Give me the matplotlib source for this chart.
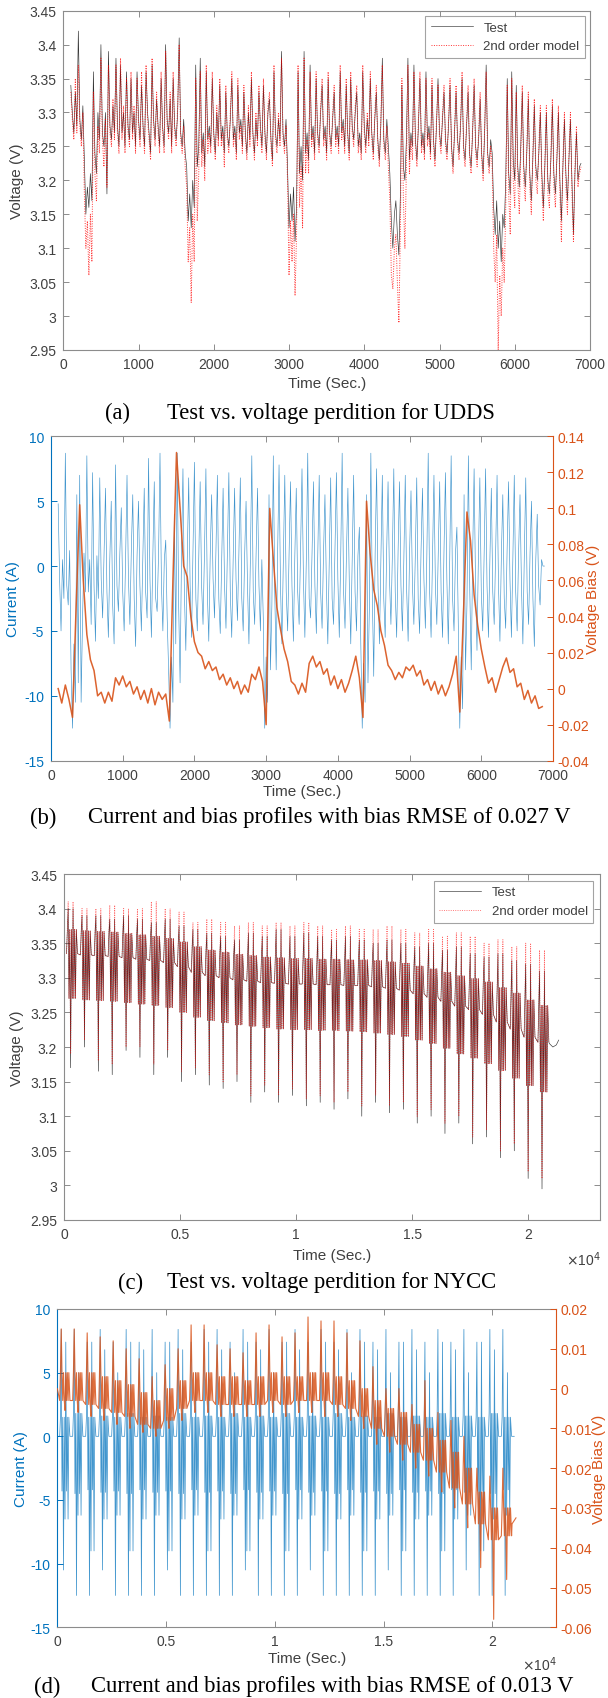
import numpy as np
import matplotlib
matplotlib.use('Agg')
import matplotlib.pyplot as plt
from matplotlib.ticker import FuncFormatter, MultipleLocator

plt.rcParams['font.family'] = ['Liberation Sans', 'DejaVu Sans']
plt.rcParams['axes.unicode_minus'] = False

W, H = 608, 1699
BLUE, ORANGE, RED = '#0072BD', '#D95319', '#FF0000'
SPINE, TXT = '#8c8c8c', '#404040'

# ---------------- (a)/(b) UDDS, voltage and current read every 20 s, bias every 50 s
udds_t = np.arange(100, 6881, 20)
a_test = [3.34, 3.30, 3.27, 3.33, 3.28, 3.42, 3.29, 3.26, 3.31, 3.23, 3.15, 3.19, 3.16, 3.21, 3.17, 3.36, 3.24, 3.21, 3.30, 3.26,
          3.40, 3.27, 3.25, 3.30, 3.18, 3.39, 3.28, 3.26, 3.31, 3.27, 3.38, 3.28, 3.25, 3.37, 3.27, 3.30, 3.25, 3.36, 3.28, 3.26,
          3.35, 3.27, 3.30, 3.25, 3.36, 3.29, 3.26, 3.34, 3.28, 3.25, 3.36, 3.30, 3.27, 3.24, 3.37, 3.29, 3.26, 3.32, 3.28, 3.25,
          3.35, 3.28, 3.25, 3.40, 3.29, 3.27, 3.32, 3.25, 3.35, 3.28, 3.26, 3.30, 3.41, 3.27, 3.25, 3.29, 3.24, 3.22, 3.14, 3.18,
          3.13, 3.20, 3.16, 3.37, 3.22, 3.25, 3.38, 3.24, 3.27, 3.22, 3.36, 3.26, 3.28, 3.25, 3.35, 3.27, 3.24, 3.30, 3.26, 3.34,
          3.26, 3.28, 3.24, 3.33, 3.27, 3.25, 3.29, 3.35, 3.26, 3.28, 3.24, 3.34, 3.27, 3.29, 3.25, 3.33, 3.27, 3.24, 3.30, 3.26,
          3.35, 3.27, 3.24, 3.29, 3.26, 3.33, 3.28, 3.25, 3.34, 3.27, 3.24, 3.30, 3.32, 3.26, 3.23, 3.36, 3.27, 3.25, 3.29, 3.26,
          3.39, 3.27, 3.25, 3.29, 3.22, 3.13, 3.18, 3.14, 3.19, 3.11, 3.16, 3.36, 3.21, 3.25, 3.20, 3.39, 3.24, 3.27, 3.23, 3.37,
          3.26, 3.28, 3.24, 3.35, 3.27, 3.25, 3.30, 3.34, 3.26, 3.28, 3.24, 3.35, 3.27, 3.25, 3.29, 3.33, 3.26, 3.28, 3.25, 3.36,
          3.27, 3.29, 3.25, 3.34, 3.27, 3.24, 3.35, 3.28, 3.26, 3.30, 3.33, 3.25, 3.27, 3.24, 3.36, 3.28, 3.25, 3.29, 3.26, 3.35,
          3.27, 3.24, 3.29, 3.33, 3.26, 3.23, 3.28, 3.38, 3.26, 3.24, 3.29, 3.25, 3.21, 3.14, 3.10, 3.15, 3.17, 3.12, 3.09, 3.18,
          3.34, 3.22, 3.20, 3.26, 3.38, 3.23, 3.27, 3.25, 3.37, 3.26, 3.23, 3.28, 3.35, 3.25, 3.27, 3.24, 3.36, 3.26, 3.28, 3.24,
          3.34, 3.26, 3.23, 3.28, 3.35, 3.27, 3.25, 3.29, 3.33, 3.26, 3.24, 3.28, 3.34, 3.25, 3.22, 3.27, 3.33, 3.26, 3.24, 3.28,
          3.35, 3.25, 3.23, 3.28, 3.33, 3.24, 3.22, 3.27, 3.34, 3.25, 3.23, 3.26, 3.32, 3.24, 3.21, 3.27, 3.37, 3.24, 3.22, 3.26,
          3.24, 3.16, 3.12, 3.17, 3.10, 3.14, 3.08, 3.15, 3.13, 3.20, 3.35, 3.21, 3.18, 3.36, 3.23, 3.20, 3.34, 3.22, 3.19, 3.25,
          3.33, 3.22, 3.19, 3.24, 3.32, 3.21, 3.17, 3.23, 3.31, 3.22, 3.20, 3.24, 3.30, 3.21, 3.16, 3.22, 3.30, 3.20, 3.18, 3.23,
          3.31, 3.21, 3.18, 3.23, 3.30, 3.20, 3.14, 3.22, 3.29, 3.21, 3.17, 3.23, 3.29, 3.20, 3.12, 3.21, 3.27, 3.20, 3.22, 3.225]
a_model = [3.33, 3.29, 3.26, 3.35, 3.27, 3.37, 3.28, 3.25, 3.30, 3.18, 3.10, 3.14, 3.06, 3.15, 3.08, 3.33, 3.21, 3.17, 3.28, 3.24,
           3.38, 3.26, 3.22, 3.29, 3.19, 3.37, 3.27, 3.25, 3.32, 3.26, 3.37, 3.27, 3.24, 3.38, 3.26, 3.31, 3.24, 3.35, 3.27, 3.25,
           3.36, 3.26, 3.31, 3.24, 3.35, 3.28, 3.25, 3.36, 3.27, 3.24, 3.37, 3.29, 3.26, 3.23, 3.38, 3.28, 3.25, 3.33, 3.27, 3.24,
           3.36, 3.27, 3.24, 3.39, 3.28, 3.26, 3.33, 3.24, 3.36, 3.27, 3.25, 3.31, 3.40, 3.26, 3.24, 3.28, 3.22, 3.19, 3.08, 3.13,
           3.02, 3.15, 3.08, 3.35, 3.14, 3.21, 3.36, 3.22, 3.26, 3.20, 3.37, 3.24, 3.27, 3.24, 3.36, 3.26, 3.23, 3.31, 3.25, 3.35,
           3.25, 3.27, 3.22, 3.34, 3.26, 3.24, 3.30, 3.36, 3.25, 3.27, 3.23, 3.35, 3.26, 3.28, 3.24, 3.34, 3.26, 3.23, 3.31, 3.25,
           3.36, 3.26, 3.23, 3.30, 3.25, 3.34, 3.27, 3.24, 3.35, 3.26, 3.23, 3.31, 3.33, 3.25, 3.22, 3.37, 3.26, 3.24, 3.30, 3.25,
           3.38, 3.26, 3.24, 3.28, 3.20, 3.06, 3.14, 3.08, 3.15, 3.03, 3.12, 3.37, 3.16, 3.22, 3.13, 3.38, 3.21, 3.26, 3.21, 3.36,
           3.25, 3.27, 3.23, 3.36, 3.26, 3.24, 3.31, 3.35, 3.25, 3.27, 3.23, 3.36, 3.26, 3.24, 3.30, 3.34, 3.25, 3.27, 3.24, 3.37,
           3.26, 3.28, 3.24, 3.35, 3.26, 3.23, 3.36, 3.27, 3.25, 3.31, 3.34, 3.24, 3.26, 3.23, 3.37, 3.27, 3.24, 3.30, 3.25, 3.36,
           3.26, 3.23, 3.30, 3.34, 3.25, 3.22, 3.29, 3.37, 3.25, 3.23, 3.28, 3.22, 3.17, 3.06, 3.04, 3.10, 3.12, 3.05, 2.99, 3.13,
           3.35, 3.17, 3.10, 3.22, 3.37, 3.21, 3.26, 3.23, 3.36, 3.25, 3.22, 3.29, 3.36, 3.24, 3.26, 3.23, 3.35, 3.25, 3.27, 3.23,
           3.35, 3.25, 3.22, 3.29, 3.34, 3.26, 3.24, 3.30, 3.34, 3.25, 3.23, 3.29, 3.35, 3.24, 3.21, 3.28, 3.34, 3.25, 3.23, 3.29,
           3.36, 3.24, 3.22, 3.29, 3.34, 3.23, 3.21, 3.28, 3.35, 3.24, 3.22, 3.27, 3.33, 3.23, 3.20, 3.28, 3.36, 3.23, 3.21, 3.25,
           3.22, 3.10, 3.05, 3.12, 2.95, 3.06, 3.00, 3.10, 3.05, 3.16, 3.34, 3.18, 3.12, 3.35, 3.20, 3.16, 3.33, 3.20, 3.15, 3.24,
           3.34, 3.20, 3.17, 3.25, 3.33, 3.19, 3.15, 3.24, 3.32, 3.20, 3.18, 3.25, 3.31, 3.19, 3.14, 3.23, 3.31, 3.18, 3.16, 3.24,
           3.32, 3.19, 3.16, 3.24, 3.31, 3.18, 3.11, 3.23, 3.30, 3.19, 3.15, 3.24, 3.30, 3.18, 3.11, 3.22, 3.28, 3.19, 3.21, 3.22]
b_current = [4.8, -1.0, -5.0, 0.5, -2.5, 8.7, -1.5, -3.0, 1.2, -8.0, -12.5, -6.0, -10.5, 5.5, -9.0, 7.0, -10.5, -4.0, 1.0, -2.0,
             8.5, -2.0, 0.5, -4.5, 7.2, -1.5, -5.8, 0.8, -2.5, 6.8, -1.0, -4.0, 1.0, 6.0, -2.0, -5.5, 0.5, 5.0, -3.0, -6.0,
             7.8, -1.5, -3.5, 1.0, 4.5, -2.0, -5.0, 0.5, 7.0, -1.0, -4.5, 1.2, 5.5, -2.5, -6.2, 0.8, 5.0, -1.5, -5.0, 0.5,
             6.0, -2.0, -4.0, 8.3, -1.0, -5.5, 0.8, 6.5, -2.5, -3.5, 1.0, 8.7, -1.5, -5.0, 0.5, 2.0, -4.0, -8.0, -12.5, -7.0,
             -10.5, 4.0, -6.0, 8.7, -3.0, -9.0, 1.0, 7.5, -2.0, -6.5, 0.5, 6.8, -1.5, -5.5, 1.2, 8.0, -2.5, -5.0, 0.5, 6.5,
             -1.5, -4.5, 1.0, 7.5, -2.0, -5.8, 0.8, 5.5, -1.0, -4.0, 1.2, 7.0, -2.5, -5.2, 0.5, 6.0, -1.5, -4.8, 1.0, 7.2,
             -2.0, -5.5, 0.5, 6.0, -1.0, -4.2, 1.0, 6.8, -2.5, -5.0, 0.8, 5.0, -1.5, -6.0, 0.5, 8.5, -2.0, -4.5, 1.0, 6.0,
             -1.5, -5.0, 0.5, -4.0, -12.5, -7.0, -10.5, 5.5, -8.0, -3.0, 8.5, -2.0, -8.0, 1.0, 7.8, -1.5, -6.0, 0.5, 7.0, -2.0,
             -5.0, 1.0, 6.5, -1.5, -5.8, 0.8, 6.0, -2.0, -4.5, 1.2, 7.5, -1.0, -5.5, 0.5, 8.7, -2.5, -4.0, 1.0, 6.5, -1.5,
             -5.2, 0.8, 7.0, -2.0, -4.8, 1.0, 5.5, -1.5, -6.0, 0.5, 6.8, -2.5, -4.5, 1.2, 7.2, -1.0, -5.5, 0.8, 8.7, -2.0,
             -4.8, 1.0, 6.0, -1.5, -6.0, 0.5, 7.0, -2.0, -5.0, 0.8, 3.0, -6.0, -12.5, -7.5, -10.5, 5.5, -9.0, -3.0, 8.7, -2.0,
             -8.5, 1.0, 7.5, -1.5, -6.0, 0.5, 7.0, -2.5, -5.5, 1.0, 6.5, -1.0, -4.5, 0.8, 7.5, -2.0, -5.5, 1.2, 6.5, -1.5,
             -5.0, 0.5, 7.0, -2.0, -5.8, 1.0, 5.8, -1.5, -4.5, 0.8, 6.8, -2.5, -5.2, 1.2, 6.0, -1.0, -4.8, 0.5, 8.7, -2.0,
             -5.5, 1.0, 7.0, -1.5, -4.5, 0.8, 6.5, -2.0, -5.5, 1.2, 7.2, -1.0, -6.0, 0.5, 8.5, -2.5, -5.0, 1.0, 3.0, -5.0,
             -12.5, -7.0, -11.0, 5.5, -8.0, -3.0, 8.5, -2.0, -8.0, 1.0, 7.5, -1.5, -6.5, 0.8, 6.8, -2.0, -5.0, 1.0, 7.5, -1.5,
             -5.5, 0.5, 6.0, -2.0, -4.5, 1.0, 7.0, -1.5, -5.8, 0.8, 5.5, -2.5, -4.8, 1.2, 6.5, -1.0, -5.5, 0.5, 7.0, -2.0,
             -5.0, 1.0, 5.5, -1.5, -6.0, 0.8, 6.8, -2.0, -4.5, 1.0, 5.0, -2.5, -6.2, 0.5, 4.0, -1.5, -3.0, 0.5, 0.0, 0.0]
bias_t = np.arange(100, 6851, 50)
b_bias = [0.000, -0.008, 0.002, -0.006, -0.016, 0.045, 0.102, 0.060, 0.030, 0.016,
          0.010, -0.004, -0.002, -0.008, -0.002, -0.007, 0.006, 0.002, 0.007, 0.001,
          0.004, -0.003, 0.001, -0.006, -0.001, -0.008, 0.000, -0.009, -0.002, -0.006,
          -0.003, -0.018, 0.060, 0.131, 0.100, 0.068, 0.062, 0.040, 0.026, 0.020,
          0.018, 0.011, 0.015, 0.010, 0.012, 0.005, 0.008, 0.002, 0.006, 0.000,
          0.004, -0.003, 0.002, -0.002, 0.008, 0.005, 0.012, 0.004, -0.020, 0.100,
          0.072, 0.045, 0.033, 0.022, 0.015, 0.004, 0.002, -0.003, 0.003, -0.002,
          0.014, 0.018, 0.012, 0.015, 0.008, 0.011, 0.002, 0.007, 0.000, 0.005,
          -0.002, 0.003, 0.010, 0.018, 0.006, -0.016, 0.104, 0.075, 0.055, 0.046,
          0.032, 0.024, 0.013, 0.010, 0.005, 0.009, 0.006, 0.012, 0.010, 0.013,
          0.007, 0.010, 0.002, 0.005, -0.001, 0.004, -0.003, 0.002, -0.004, 0.001,
          0.008, 0.018, -0.013, 0.040, 0.098, 0.082, 0.052, 0.035, 0.022, 0.012,
          0.003, 0.006, -0.002, 0.005, 0.012, 0.017, 0.009, 0.011, 0.001, 0.003,
          -0.006, -0.001, -0.008, -0.004, -0.011, -0.010]

# ---------------- (c)/(d) NYCC, one entry per drive cycle (~597 s each)
nycc_t = np.arange(340, 21000, 597)
sub_t = np.array([-230, -195, -160, -125, -90, -55, -20, 15, 50, 85, 120, 155, 190, 240])   # samples in a cycle
c_base = [3.335, 3.333, 3.332, 3.331, 3.329, 3.327, 3.325, 3.322, 3.316, 3.308,
          3.303, 3.300, 3.297, 3.295, 3.293, 3.292, 3.291, 3.291, 3.290, 3.290,
          3.289, 3.289, 3.287, 3.285, 3.282, 3.277, 3.272, 3.266, 3.259, 3.254,
          3.247, 3.236, 3.226, 3.214, 3.207]
c_cu = [3.370, 3.368, 3.367, 3.366, 3.364, 3.362, 3.360, 3.357, 3.352, 3.345,
        3.340, 3.337, 3.334, 3.332, 3.330, 3.329, 3.328, 3.328, 3.327, 3.327,
        3.326, 3.326, 3.325, 3.323, 3.321, 3.317, 3.313, 3.308, 3.303, 3.299,
        3.294, 3.286, 3.278, 3.268, 3.260]
c_cl = [3.270, 3.268, 3.267, 3.266, 3.264, 3.262, 3.260, 3.257, 3.250, 3.243,
        3.238, 3.235, 3.232, 3.230, 3.228, 3.226, 3.225, 3.225, 3.224, 3.224,
        3.223, 3.222, 3.220, 3.218, 3.215, 3.210, 3.205, 3.198, 3.190, 3.184,
        3.176, 3.166, 3.155, 3.144, 3.135]
c_hi = [3.400, 3.390, 3.390, 3.385, 3.390, 3.385, 3.380, 3.385, 3.375, 3.370,
        3.365, 3.360, 3.355, 3.365, 3.360, 3.370, 3.360, 3.365, 3.360, 3.355,
        3.360, 3.355, 3.350, 3.355, 3.350, 3.345, 3.350, 3.340, 3.345, 3.335,
        3.330, 3.335, 3.325, 3.320, 3.310]
c_lo = [3.170, 3.200, 3.165, 3.160, 3.195, 3.185, 3.160, 3.185, 3.150, 3.160,
        3.145, 3.140, 3.150, 3.120, 3.135, 3.120, 3.130, 3.115, 3.120, 3.110,
        3.125, 3.100, 3.120, 3.105, 3.110, 3.090, 3.100, 3.075, 3.090, 3.060,
        3.070, 3.040, 3.050, 3.010, 2.995]
m_hi = [3.410, 3.400, 3.400, 3.405, 3.400, 3.400, 3.410, 3.400, 3.395, 3.380,
        3.385, 3.380, 3.375, 3.380, 3.375, 3.380, 3.375, 3.380, 3.375, 3.370,
        3.375, 3.370, 3.370, 3.375, 3.370, 3.365, 3.370, 3.360, 3.365, 3.360,
        3.350, 3.355, 3.345, 3.350, 3.340]
m_lo = [3.190, 3.210, 3.180, 3.175, 3.200, 3.200, 3.175, 3.195, 3.165, 3.170,
        3.160, 3.150, 3.160, 3.130, 3.145, 3.130, 3.140, 3.125, 3.130, 3.120,
        3.135, 3.115, 3.130, 3.115, 3.120, 3.100, 3.110, 3.090, 3.100, 3.070,
        3.080, 3.050, 3.060, 3.020, 3.010]
c_tail_t = [20900, 21050, 21200, 21300]
c_tail_v = [3.205, 3.200, 3.203, 3.210]

d_hi = [8.4, 8.4, 7.4, 8.4, 7.4, 8.4, 7.4, 8.4, 7.4, 8.4, 7.4, 8.4, 8.4, 7.4, 8.4,
        7.4, 8.4, 7.4, 8.4, 7.4, 8.4, 7.4, 8.4, 8.4, 7.4, 8.4, 7.4, 8.4, 7.4, 8.4,
        7.4, 8.4, 7.4, 8.4, 8.4]
d_hi2 = [7.4, 5.0, 7.4, 6.8, 5.0, 7.4, 6.8, 5.0, 7.4, 6.8, 5.0, 7.4, 6.8, 5.0, 7.4,
         6.8, 5.0, 7.4, 6.8, 5.0, 7.4, 6.8, 5.0, 7.4, 6.8, 5.0, 7.4, 6.8, 5.0, 7.4,
         6.8, 5.0, 7.4, 6.8, 5.0]
d_lo = [-10.5, -12.5, -12.5, -10.5, -12.5, -12.5, -12.5, -12.5, -10.5, -12.5, -12.5, -12.5,
        -12.5, -12.5, -10.5, -12.5, -12.5, -12.5, -12.5, -10.5, -12.5, -12.5, -12.5, -12.5,
        -12.5, -10.5, -12.5, -12.5, -12.5, -12.5, -12.5, -10.5, -12.5, -12.5, -12.5]
d_cu = [1.5, 1.8, 1.5, 1.6, 1.5, 1.8, 1.5, 1.6, 1.5, 1.8, 1.5, 1.6, 1.5, 1.8, 1.5,
        1.6, 1.5, 1.8, 1.5, 1.6, 1.5, 1.8, 1.5, 1.6, 1.5, 1.8, 1.5, 1.6, 1.5, 1.8,
        1.5, 1.6, 1.5, 1.8, 1.5]
d_cl = [-4.3, -4.5, -4.2, -4.4, -4.3, -4.5, -4.2, -4.4, -4.3, -4.5, -4.2, -4.4, -4.3,
        -4.5, -4.2, -4.4, -4.3, -4.5, -4.2, -4.4, -4.3, -4.5, -4.2, -4.4, -4.3, -4.5,
        -4.2, -4.4, -4.3, -4.5, -4.2, -4.4, -4.3, -4.5, -4.2]
d_mid = [-6.5, -6.2, -9.0, -6.5, -6.2, -9.0, -6.5, -6.2, -9.0, -6.5, -6.2, -9.0, -6.5,
         -6.2, -9.0, -6.5, -6.2, -9.0, -6.5, -6.2, -9.0, -6.5, -6.2, -9.0, -6.5, -6.2,
         -9.0, -6.5, -6.2, -9.0, -6.5, -6.2, -9.0, -6.5, -6.2]
o_pk = [0.015, 0.015, 0.014, 0.013, 0.012, 0.010, 0.0075, 0.003, 0.006, 0.010,
        0.016, 0.016, 0.011, 0.010, 0.009, 0.014, 0.016, 0.013, 0.014, 0.018,
        0.017, 0.017, 0.014, 0.012, 0.0055, 0.000, 0.000, -0.004, 0.002, -0.006,
        -0.008, -0.012, -0.020, -0.022, -0.020]
o_cu = [0.004, 0.004, 0.004, 0.003, 0.002, 0.001, -0.001, -0.003, 0.000, 0.002,
        0.004, 0.004, 0.003, 0.003, 0.002, 0.003, 0.004, 0.003, 0.003, 0.004,
        0.004, 0.003, 0.002, 0.000, -0.003, -0.005, -0.006, -0.009, -0.010, -0.013,
        -0.016, -0.020, -0.026, -0.030, -0.030]
o_cl = [-0.003, -0.003, -0.004, -0.005, -0.006, -0.007, -0.009, -0.010, -0.008, -0.005,
        -0.003, -0.003, -0.004, -0.004, -0.004, -0.004, -0.003, -0.004, -0.003, -0.003,
        -0.003, -0.004, -0.005, -0.007, -0.010, -0.012, -0.014, -0.016, -0.018, -0.021,
        -0.025, -0.029, -0.034, -0.038, -0.037]
o_tr = [-0.0055, -0.006, -0.007, -0.008, -0.009, -0.010, -0.011, -0.012, -0.010, -0.008,
        -0.006, -0.006, -0.007, -0.007, -0.007, -0.007, -0.006, -0.007, -0.006, -0.006,
        -0.007, -0.007, -0.008, -0.010, -0.014, -0.016, -0.018, -0.020, -0.022, -0.026,
        -0.030, -0.035, -0.045, -0.058, -0.048]
d_tail_t = [20900, 21080]
d_tail_v = [-0.034, -0.0325]


def rect(l, t, r, b):
    return [l / W, 1 - b / H, (r - l) / W, (b - t) / H]


def cycles(cols):
    t = (nycc_t[:, None] + sub_t[None, :]).ravel()
    v = np.column_stack([np.asarray(c, float) for c in cols]).ravel()
    return t, v


gfmt = FuncFormatter(lambda v, _: '%g' % round(v, 6))
e4fmt = FuncFormatter(lambda v, _: '%g' % round(v / 1e4, 6))


def style(ax):
    for s in ax.spines.values():
        s.set_color(SPINE); s.set_linewidth(0.8)
    ax.tick_params(direction='in', length=4, width=0.7, color=SPINE, labelcolor=TXT,
                   labelsize=10, top=True, right=True, pad=5)


def caption(tag, text, xt, xs, y):
    fig.text(xt / W, 1 - y / H, tag, family=['Liberation Serif'], fontsize=16.3, va='center', color='black')
    fig.text(xs / W, 1 - y / H, text, family=['Liberation Serif'], fontsize=16.3, va='center', color='black')


def twin_style(ax, ax2):
    style(ax)
    ax.tick_params(axis='y', right=False, color=BLUE, labelcolor=BLUE)
    ax.spines['left'].set_color(BLUE); ax.spines['right'].set_visible(False)
    for k in ('left', 'top', 'bottom'):
        ax2.spines[k].set_visible(False)
    ax2.spines['right'].set_color(ORANGE); ax2.spines['right'].set_linewidth(0.8)
    ax2.tick_params(axis='y', direction='in', length=4, width=0.7, color=ORANGE,
                    labelcolor=ORANGE, labelsize=10, pad=3)


fig = plt.figure(figsize=(W / 100, H / 100), dpi=100)

# ---- (a)
ax = fig.add_axes(rect(63.3, 11.7, 590, 351))
ax.plot(udds_t, a_test, color='black', lw=0.45, alpha=0.8, label='Test')
ax.plot(udds_t, a_model, color=RED, lw=0.7, ls=(0, (1, 1.5)), alpha=0.8, label='2nd order model')
ax.set_xlim(0, 7000); ax.set_ylim(2.95, 3.45)
ax.xaxis.set_major_locator(MultipleLocator(1000)); ax.yaxis.set_major_locator(MultipleLocator(0.05))
ax.yaxis.set_major_formatter(gfmt)
style(ax)
ax.set_xlabel('Time (Sec.)', fontsize=11, color=TXT); ax.xaxis.set_label_coords(0.5, -0.077)
ax.set_ylabel('Voltage (V)', fontsize=11, color=TXT); ax.yaxis.set_label_coords(-0.075, 0.5)
leg = ax.legend(loc='upper right', bbox_to_anchor=(0.99, 0.984), borderaxespad=0, fontsize=9.5,
                fancybox=False, edgecolor=SPINE, handlelength=3.2, labelcolor=TXT)
leg.get_frame().set_linewidth(0.8)
caption('(a)', 'Test vs. voltage perdition for UDDS', 105, 167, 413)

# ---- (b)
ax = fig.add_axes(rect(51, 437.3, 553, 761.7))
ax2 = ax.twinx()
ax.plot(udds_t, b_current, color=BLUE, lw=0.45, alpha=0.75)
ax2.plot(bias_t, b_bias, color=ORANGE, lw=1.1, alpha=0.9)
ax.set_xlim(0, 7000); ax.set_ylim(-15, 10); ax2.set_ylim(-0.04, 0.14)
ax.xaxis.set_major_locator(MultipleLocator(1000)); ax.yaxis.set_major_locator(MultipleLocator(5))
ax2.yaxis.set_major_locator(MultipleLocator(0.02)); ax2.yaxis.set_major_formatter(gfmt)
twin_style(ax, ax2)
ax.set_xlabel('Time (Sec.)', fontsize=11, color=TXT); ax.xaxis.set_label_coords(0.5, -0.072)
ax.set_ylabel('Current (A)', fontsize=11, color=BLUE); ax.yaxis.set_label_coords(-0.062, 0.5)
ax2.set_ylabel('Voltage Bias (V)', fontsize=11, color=ORANGE); ax2.yaxis.set_label_coords(1.066, 0.5)
caption('(b)', 'Current and bias profiles with bias RMSE of 0.027 V', 30, 88, 818)

# ---- (c)
ax = fig.add_axes(rect(64, 875, 600, 1221))
tt, vt = cycles([c_base, c_cu, c_hi, c_cl, c_cu, c_lo, c_cu, c_cl, c_hi, c_cl, c_cu, c_cl, c_cu, c_base])
tm, vm = cycles([c_base, c_cu, m_hi, c_cl, c_cu, m_lo, c_cu, c_cl, m_hi, c_cl, c_cu, c_cl, c_cu, c_base])
ax.plot(np.r_[tt, c_tail_t], np.r_[vt, c_tail_v], color='black', lw=0.45, alpha=0.8, label='Test')
ax.plot(tm, vm, color=RED, lw=0.65, ls=(0, (1, 1.5)), alpha=0.6, label='2nd order model')
ax.set_xlim(0, 23080); ax.set_ylim(2.95, 3.45)
ax.xaxis.set_major_locator(MultipleLocator(5000)); ax.xaxis.set_major_formatter(e4fmt)
ax.yaxis.set_major_locator(MultipleLocator(0.05)); ax.yaxis.set_major_formatter(gfmt)
style(ax)
ax.set_xlabel('Time (Sec.)', fontsize=11, color=TXT); ax.xaxis.set_label_coords(0.5, -0.081)
ax.set_ylabel('Voltage (V)', fontsize=11, color=TXT); ax.yaxis.set_label_coords(-0.075, 0.5)
ax.text(0.937, -0.113, r'$\times$10$^4$', transform=ax.transAxes, fontsize=10, color=TXT, va='center')
leg = ax.legend(loc='upper right', bbox_to_anchor=(0.987, 0.98), borderaxespad=0, fontsize=9.5,
                fancybox=False, edgecolor=SPINE, handlelength=3.2, labelcolor=TXT)
leg.get_frame().set_linewidth(0.8)
caption('(c)', 'Test vs. voltage perdition for NYCC', 118, 167, 1283)

# ---- (d)
ax = fig.add_axes(rect(57.3, 1310, 556, 1628.3))
ax2 = ax.twinx()
rest = np.zeros(len(nycc_t))   # current is 0 A between bursts
ti, vi = cycles([rest, d_cu, d_hi, d_cl, d_cu, d_lo, d_cu, d_mid, d_hi2, d_cl, d_cu, d_mid, d_cu, rest])
to, vo = cycles([o_cl, o_cu, o_pk, o_cu, o_cl, o_cu, o_cl, o_tr, o_cu, o_cl, o_cu, o_cl, o_cu, o_cl])
ax.plot(np.r_[0, ti, 21000], np.r_[0, vi, 0], color=BLUE, lw=0.55, alpha=0.75)
ax2.plot(np.r_[0, to, d_tail_t], np.r_[0.0, vo, d_tail_v], color=ORANGE, lw=0.8, alpha=0.85)
ax.set_xlim(0, 22920); ax.set_ylim(-15, 10); ax2.set_ylim(-0.06, 0.02)
ax.xaxis.set_major_locator(MultipleLocator(5000)); ax.xaxis.set_major_formatter(e4fmt)
ax.yaxis.set_major_locator(MultipleLocator(5))
ax2.yaxis.set_major_locator(MultipleLocator(0.01)); ax2.yaxis.set_major_formatter(gfmt)
twin_style(ax, ax2)
ax.set_xlabel('Time (Sec.)', fontsize=11, color=TXT); ax.xaxis.set_label_coords(0.5, -0.075)
ax.set_ylabel('Current (A)', fontsize=11, color=BLUE); ax.yaxis.set_label_coords(-0.059, 0.5)
ax2.set_ylabel('Voltage Bias (V)', fontsize=11, color=ORANGE); ax2.yaxis.set_label_coords(1.072, 0.5)
ax.text(0.932, -0.115, r'$\times$10$^4$', transform=ax.transAxes, fontsize=10, color=TXT, va='center')
caption('(d)', 'Current and bias profiles with bias RMSE of 0.013 V', 34, 91, 1687)

fig.savefig('out.png', dpi=100)
